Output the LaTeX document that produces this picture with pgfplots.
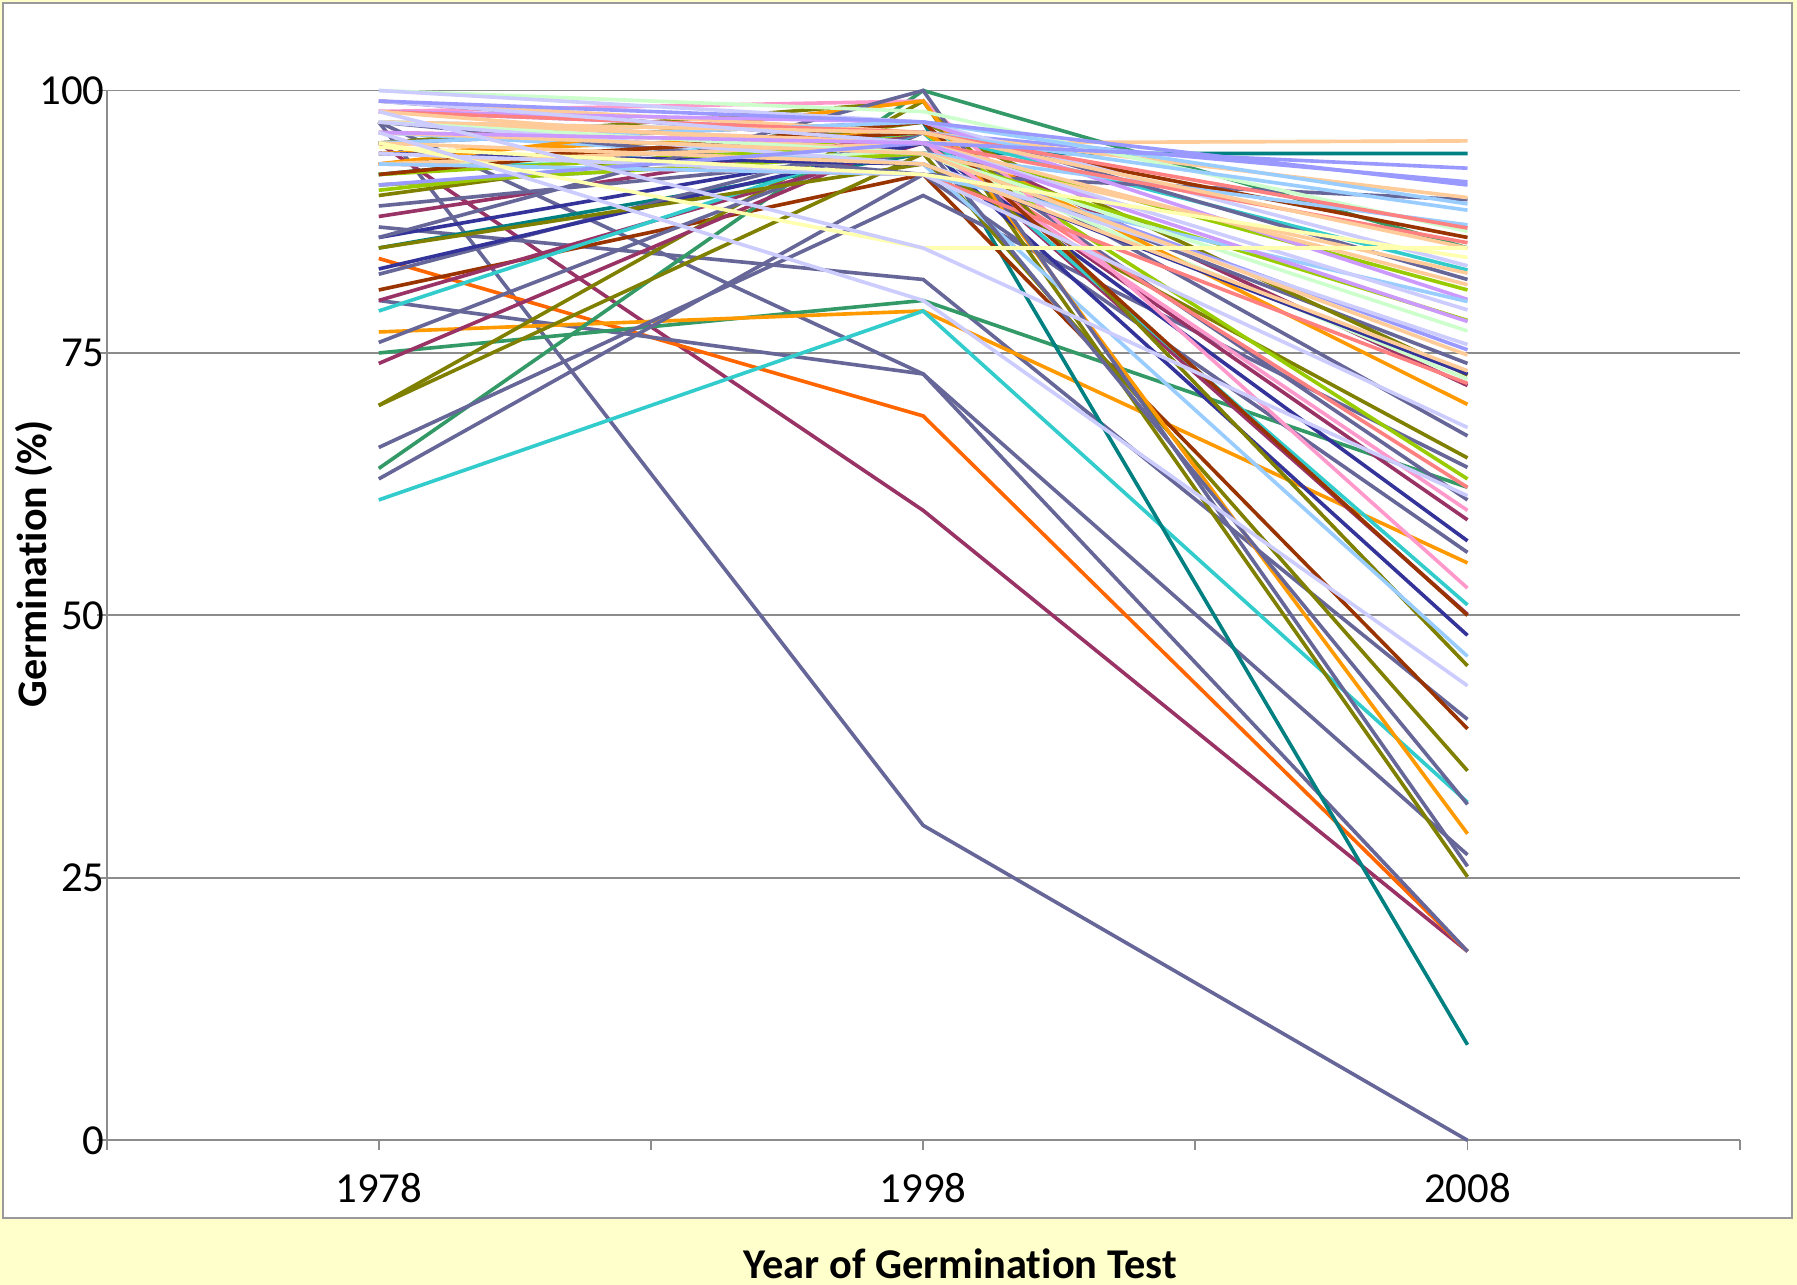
\documentclass[border=0pt]{standalone}
\usepackage{pgfplots}
\pgfplotsset{compat=1.18}
\usepackage{fontspec}
\setmainfont{Carlito}[Ligatures=NoCommon]
\definecolor{cslate}{HTML}{666699}
\definecolor{cplum}{HTML}{993366}
\definecolor{corangeR}{HTML}{FF6600}
\definecolor{cturq}{HTML}{33CCCC}
\definecolor{cseag}{HTML}{339966}
\definecolor{colive}{HTML}{808000}
\definecolor{corange}{HTML}{FF9900}
\definecolor{cteal}{HTML}{008080}
\definecolor{cindigo}{HTML}{333399}
\definecolor{cbrown}{HTML}{993300}
\definecolor{clime}{HTML}{99CC00}
\definecolor{crose}{HTML}{FF99CC}
\definecolor{cperi}{HTML}{CCCCFF}
\definecolor{cpale}{HTML}{99CCFF}
\definecolor{ctan}{HTML}{FFCC99}
\definecolor{cltgreen}{HTML}{CCFFCC}
\definecolor{cltyellow}{HTML}{FFFFB0}
\definecolor{cbviolet}{HTML}{9999FF}
\definecolor{ccoral}{HTML}{FF8080}
\definecolor{clav}{HTML}{CC99FF}
\definecolor{bgyellow}{HTML}{FFFFCC}
\definecolor{gridgray}{HTML}{8C8C8C}
\newcommand{\ser}[4]{\addplot[color=#1, line width=0.95pt, mark=none] coordinates {(0.5,#2) (1.5,#3) (2.5,#4)};}
\begin{document}
\begin{tikzpicture}
\path[use as bounding box] (-27.9pt,-37.8pt) rectangle (442.5pt,298.5pt);
\fill[bgyellow] (-27.9pt,-37.8pt) rectangle (442.5pt,298.5pt);
\filldraw[fill=white, draw=gray!80, line width=0.5pt] (-27pt,-20.4pt) rectangle (441.3pt,297.6pt);
\begin{axis}[
  scale only axis, width=427.5pt, height=274.8pt,
  at={(0pt,0pt)}, anchor=south west,
  xmin=0, xmax=3, ymin=0, ymax=100,
  clip=false,
  axis x line*=bottom, axis y line*=left,
  axis line style={draw=gridgray, line width=0.5pt},
  xtick={0.5,1.5,2.5}, xticklabels={1978,1998,2008},
  minor xtick={0,1,2,3},
  ytick={0,25,50,75,100},
  ymajorgrids, grid style={draw=gridgray, line width=0.5pt},
  tick align=outside, tick pos=left,
  major tick length=2.5pt, minor tick length=2.5pt,
  tick style={draw=gridgray, line width=0.5pt},
  /pgf/number format/assume math mode=true,
  ticklabel style={font=\fontsize{11.2}{13}\selectfont},
  xticklabel style={yshift=-2.5pt},
  yticklabel style={xshift=5.5pt},
]
\ser{cslate}{97}{30}{0}
\ser{cplum}{95}{60}{18}
\ser{corangeR}{84}{69}{18}
\ser{cslate}{97}{73}{27.2}
\ser{cslate}{80}{73}{18}
\ser{cslate}{87}{82}{40.1}
\ser{cseag}{75}{80}{62.2}
\ser{corange}{77}{79}{55}
\ser{cturq}{61}{79}{32.2}
\ser{cteal}{92}{97}{9.1}
\ser{cbrown}{81}{92}{39.2}
\ser{cteal}{85}{94}{94}
\ser{cseag}{64}{100}{85}
\ser{cslate}{66}{90}{64.1}
\ser{cslate}{63}{92}{56}
\ser{colive}{70}{94}{35.2}
\ser{colive}{70}{99}{25.1}
\ser{cplum}{74}{96}{50.1}
\ser{cslate}{76}{96}{61}
\ser{cplum}{80}{95}{59.1}
\ser{cturq}{79}{96}{51}
\ser{cslate}{82.5}{96}{67.1}
\ser{cindigo}{83}{95}{48.1}
\ser{colive}{85}{93}{65}
\ser{cindigo}{86}{95}{57.1}
\ser{cplum}{88}{96}{71.9}
\ser{cslate}{89}{94}{74}
\ser{colive}{90}{97}{72.9}
\ser{cbviolet}{91}{94}{75.3}
\ser{clime}{90.5}{96}{63}
\ser{cturq}{92}{96}{82.9}
\ser{ccoral}{93}{95}{62.2}
\ser{cltgreen}{93}{94}{72.5}
\ser{corange}{94}{96}{70.1}
\ser{colive}{95}{99}{45.2}
\ser{cpale}{96}{93}{46.1}
\ser{cslate}{97}{92}{89.6}
\ser{crose}{98}{99}{52.6}
\ser{cbrown}{93}{96}{86}
\ser{cslate}{95}{97}{82}
\ser{clime}{92}{95}{81}
\ser{clime}{91}{94}{78.1}
\ser{cindigo}{94}{93}{73}
\ser{corange}{93}{99}{29.2}
\ser{crose}{97}{95}{60}
\ser{cslate}{99}{95}{32}
\ser{cslate}{86}{100}{26.1}
\ser{ccoral}{93}{92}{72.1}
\ser{cbrown}{92}{97}{50}
\ser{ctan}{93}{95}{95.2}
\ser{cbviolet}{98}{96}{91.3}
\ser{ctan}{99}{96}{89.8}
\ser{cltgreen}{100}{98}{86.6}
\ser{cperi}{100}{97}{83.3}
\ser{clav}{98}{97}{80.1}
\ser{cpale}{95}{97}{89.2}
\ser{cpale}{97}{96}{88.6}
\ser{cpale}{96}{94}{87.2}
\ser{ccoral}{98}{96}{86.9}
\ser{ccoral}{96}{95}{85.5}
\ser{ctan}{97}{96}{85}
\ser{ctan}{98}{94}{82.6}
\ser{ctan}{97}{95}{81.5}
\ser{cpale}{93}{92}{79.9}
\ser{cperi}{99}{95}{79.1}
\ser{cltgreen}{97}{94}{77.1}
\ser{cperi}{97}{93}{75.8}
\ser{ctan}{96}{94}{74.8}
\ser{ctan}{95}{93}{73.3}
\ser{cperi}{94}{92}{67.9}
\ser{cbviolet}{91}{95}{92.6}
\ser{cbviolet}{99}{97}{91}
\ser{clav}{96}{95}{78}
\ser{cltyellow}{94.6}{92}{84.1}
\ser{cltyellow}{95}{85}{85}
\ser{cperi}{96}{80}{43.3}
\ser{cperi}{98}{85}{61.4}
\end{axis}
\node[rotate=90, font=\fontsize{11}{13}\selectfont\bfseries] at (-18.9pt,150.9pt) {Germination (\%)};
\node[font=\fontsize{11.1}{13}\selectfont\bfseries] at (223.5pt,-32.4pt) {Year of Germination Test};
\end{tikzpicture}
\end{document}
